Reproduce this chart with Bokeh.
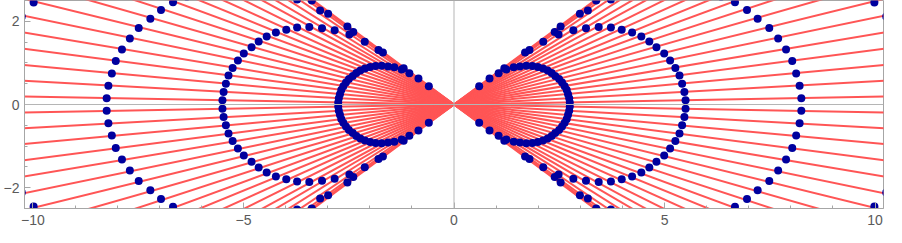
import numpy as np
from bokeh.plotting import figure
from bokeh.models import Range1d, FixedTicker, Span, ColumnDataSource, CustomJSTickFormatter
from bokeh.embed import file_html
from bokeh.resources import INLINE

# Rays in the first quadrant (mirrored into the other three): direction in degrees
ray_angle_deg = [1.05, 3.15, 5.25, 7.4, 9.5, 11.65, 13.8, 15.95, 18.1, 20.2,
                 22.25, 24.3, 26.4, 28.5, 30.3, 32.2, 34.1, 35.4, 36.5, 36.1]
# Distance from the origin of the first dot on each ray (dots repeat at whole multiples)
ray_step = [2.75, 2.74, 2.72, 2.70, 2.665, 2.62, 2.57, 2.50, 2.44, 2.37,
            2.285, 2.185, 2.08, 1.955, 1.815, 1.675, 1.50, 1.30, 1.05, 0.74]
dot_multiples = [1, 2, 3, 4, 5, 6]

x_ticks = [-10, -5, 0, 5, 10]
x_minor = [-9, -8, -7, -6, -4, -3, -2, -1, 1, 2, 3, 4, 6, 7, 8, 9]
y_ticks = [-2, 0, 2]
y_minor = [-2.5, -1.5, -1, -0.5, 0.5, 1, 1.5, 2.5]

LINE_RED = "#ff5555"
DOT_BLUE = "#00009e"
GRAY = "#a6a6a6"
LABEL = "#5a5a5a"

# line directions (each line goes through the origin in both directions)
th = np.radians(np.array(ray_angle_deg))
line_angles = np.concatenate([th, th + np.pi, -th, np.pi - th])

# dots
xs, ys = [], []
for a, r in zip(th, ray_step):
    for k in dot_multiples:
        for sx in (1, -1):
            for sy in (1, -1):
                xs.append(sx * k * r * np.cos(a))
                ys.append(sy * k * r * np.sin(a))

p = figure(width=886, height=227, output_backend="svg", toolbar_location=None,
           x_range=Range1d(-10.2, 10.2), y_range=Range1d(-2.5, 2.5),
           min_border_left=24, min_border_right=3, min_border_top=0, min_border_bottom=0)
p.xgrid.visible = False
p.ygrid.visible = False
p.background_fill_color = "white"
p.border_fill_color = "white"
p.outline_line_color = GRAY
p.outline_line_width = 1

p.ray(x=np.zeros(len(line_angles)), y=np.zeros(len(line_angles)), length=0,
      angle=line_angles, line_color=LINE_RED, line_width=2)

p.add_layout(Span(location=0, dimension="width", line_color="#b5b5b5", line_width=1))
p.add_layout(Span(location=0, dimension="height", line_color="#b5b5b5", line_width=1))

src = ColumnDataSource(dict(x=xs, y=ys))
p.scatter("x", "y", source=src, size=8, fill_color=DOT_BLUE, line_color=None)

fmt = CustomJSTickFormatter(code="return tick < 0 ? '\\u2212' + (-tick) : '' + tick;")
p.xaxis.ticker = FixedTicker(ticks=x_ticks, minor_ticks=x_minor)
p.yaxis.ticker = FixedTicker(ticks=y_ticks, minor_ticks=y_minor)
for ax in (p.xaxis, p.yaxis):
    ax.formatter = fmt
    ax.axis_line_color = GRAY
    ax.major_tick_line_color = GRAY
    ax.minor_tick_line_color = GRAY
    ax.major_tick_in = 6
    ax.major_tick_out = 0
    ax.minor_tick_in = 3
    ax.minor_tick_out = 0
    ax.major_label_text_color = LABEL
    ax.major_label_text_font = "Liberation Sans"
    ax.major_label_text_font_size = "14px"
p.xaxis.major_label_standoff = 6
p.yaxis.major_label_standoff = 5

open("out.html", "w").write(file_html(p, INLINE))
